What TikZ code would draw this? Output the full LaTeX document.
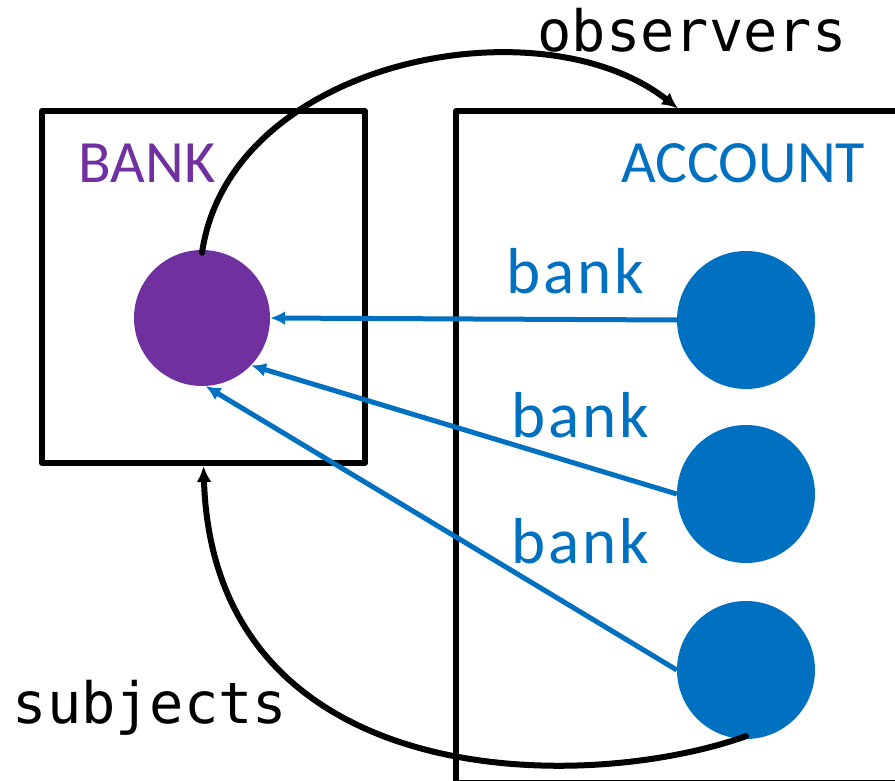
\documentclass[tikz,border=0pt]{standalone}
\usepackage{fontspec}
\setmainfont{Carlito}
\newfontfamily\fieldfont{Carlito}[LetterSpace=4.5]
\newfontfamily\codefont{DejaVu Sans Mono}
\usetikzlibrary{arrows.meta}
\definecolor{bankpurple}{HTML}{7030A0}
\definecolor{acctblue}{HTML}{0070C0}
\tikzset{
  box/.style={draw=black, line width=6pt, line join=round, rectangle, inner sep=0pt},
  obj/.style={circle, inner sep=0pt, minimum size=#1},
  ref/.style={draw=acctblue, line width=5pt, -{Latex[length=15pt,width=14pt]}},
  link/.style={draw=black, line width=6pt, line cap=round, -{Latex[length=16pt,width=15pt]}},
  title/.style={anchor=base, font=\fontsize{60}{60}\selectfont},
  field/.style={anchor=base, text=acctblue, font=\fieldfont\fontsize{65}{65}\selectfont},
  code/.style={anchor=base, font=\codefont\fontsize{57}{57}\selectfont},
}
\begin{document}
\begin{tikzpicture}[x=1pt, y=-1pt]
  \useasboundingbox (0,0) rectangle (895,781);

  % containers
  \node[box, minimum width=323pt, minimum height=352pt] (bankbox) at (203.5,287) {};
  \node[box, minimum width=480pt, minimum height=672pt] (acctbox) at (696,447) {};

  \node[title, text=bankpurple] (banklbl) at (147,183) {BANK};
  \node[title, text=acctblue] (acctlbl) at (743,183) {ACCOUNT};

  % objects
  \node[obj=136pt, fill=bankpurple] (p) at (202,318) {};
  \node[obj=138pt, fill=acctblue] (a1) at (746,320) {};
  \node[obj=138pt, fill=acctblue] (a2) at (746,494) {};
  \node[obj=138pt, fill=acctblue] (a3) at (746,670) {};

  % references from accounts to the bank
  \draw[ref] (a1.west) -- (p.east);
  \draw[ref] (a2.west) -- (p.-44);
  \draw[ref] (a3.west) -- (p.-87);

  \node[field] (f1) at (575,293) {bank};
  \node[field] (f2) at (580,437) {bank};
  \node[field] (f3) at (580,563) {bank};

  % observer / subject links
  \coordinate (obsend) at (678,108.5);
  \draw[link] ([yshift=-3pt]p.north) .. controls (230,60) and (540,0) .. (obsend);
  \node[code] (obs) at (692,52) {observers};

  \draw[link] ([yshift=3pt]a3.south) .. controls (580,795) and (214,792) .. (bankbox.south);
  \node[code] (subj) at (150,723) {subjects};
\end{tikzpicture}
\end{document}
